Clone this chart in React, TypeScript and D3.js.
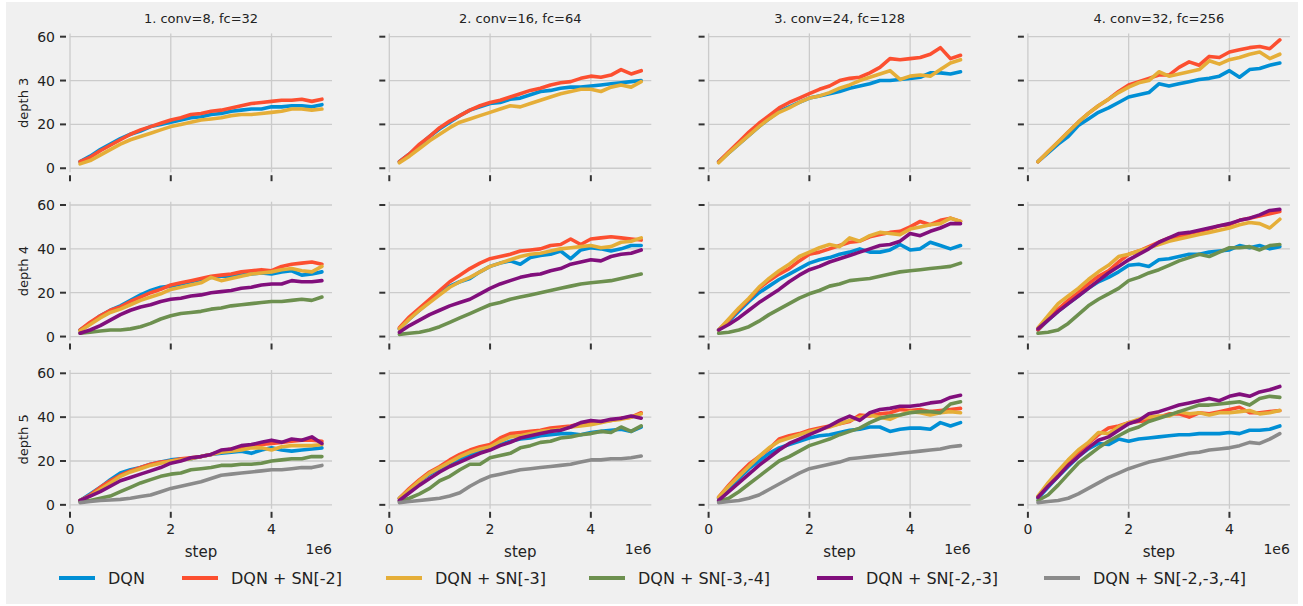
import * as d3 from 'd3';

const steps = [0.2, 0.4, 0.6, 0.8, 1.0, 1.2, 1.4, 1.6, 1.8, 2.0, 2.2, 2.4, 2.6, 2.8, 3.0, 3.2, 3.4, 3.6, 3.8, 4.0, 4.2, 4.4, 4.6, 4.8, 5.0];
const methods = ['DQN', 'DQN + SN[-2]', 'DQN + SN[-3]', 'DQN + SN[-3,-4]', 'DQN + SN[-2,-3]', 'DQN + SN[-2,-3,-4]'];
const colors = ['#008fd5', '#fc4f30', '#e5ae38', '#6d904f', '#810f7c', '#8b8b8b'];
const titles = ['1. conv=8, fc=32', '2. conv=16, fc=64', '3. conv=24, fc=128', '4. conv=32, fc=256'];
const depths = ['depth 3', 'depth 4', 'depth 5'];
const xTicks = [0, 2, 4];
const yTicks = [0, 20, 40, 60];

// depth 3: DQN, SN[-2], SN[-3]
const dep3_c1 = [
  [3, 5.5, 8.5, 11, 13.5, 15.5, 17, 19, 20, 21, 22, 23, 23.5, 24.5, 25, 26, 26.5, 27, 27, 28, 28, 28.5, 28.5, 28, 29],
  [3, 5, 8, 10.5, 13, 15.5, 17.5, 19, 20.5, 22, 23, 24.5, 25, 26, 26.5, 27.5, 28.5, 29.5, 30, 30.5, 31, 31, 31.5, 30.5, 31.5],
  [2, 3.5, 6, 8.5, 11, 13, 14.5, 16, 17.5, 19, 20, 21, 22, 22.5, 23, 24, 24.5, 24.5, 25, 25.5, 26, 27, 27, 26.5, 27],
];
const dep3_c2 = [
  [3, 6.5, 10.5, 14.5, 18, 21, 24, 26.5, 28, 29.5, 30, 31.5, 32, 33.5, 35, 35.5, 36.5, 37, 37, 37.5, 38, 38.5, 39, 39.5, 40],
  [3, 6.5, 11, 14.5, 18.5, 21.5, 24, 26.5, 28.5, 30, 31, 32.5, 34, 35.5, 36.5, 38, 39, 39.5, 41, 42, 41.5, 42.5, 45, 43, 44.5],
  [2.5, 5.5, 9, 12.5, 15.5, 18.5, 21, 22.5, 24, 25.5, 27, 28.5, 28, 29.5, 31, 32.5, 34, 35, 36, 36, 35, 37, 38, 37, 39.5],
];
const dep3_c3 = [
  [3, 7, 11, 15, 19, 22.5, 26, 28, 30, 32, 33, 34, 35, 36.5, 37.5, 38.5, 40, 40, 40.5, 41, 41.5, 43.5, 43.5, 43, 44],
  [3, 7.5, 12, 16.5, 20.5, 24, 27.5, 30, 32, 34, 36, 37.5, 40, 41, 41.5, 43.5, 46, 50, 49.5, 50, 50.5, 52, 55, 50, 51.5],
  [2.5, 7, 11, 15, 19, 22.5, 25.5, 27.5, 30, 32, 33, 34.5, 36.5, 38, 40, 41.5, 43, 44.5, 40.5, 42, 42.5, 42, 45, 48, 49.5],
];
const dep3_c4 = [
  [3, 7, 11, 14.5, 19.5, 22.5, 25.5, 27.5, 30, 32.5, 33.5, 34.5, 38.5, 37.5, 38.5, 39.5, 40.5, 41, 42, 44.5, 41.5, 45, 45.5, 47, 48],
  [3, 7.5, 12, 16.5, 21, 25, 28.5, 31.5, 35, 38, 39.5, 41, 42.5, 42.5, 46, 48.5, 47, 51, 50.5, 53, 54, 55, 55.5, 54.5, 58.5],
  [3, 7.5, 12, 16.5, 21, 25, 28.5, 31.5, 34.5, 37, 39, 40, 44, 42, 43, 44, 45, 49, 47.5, 49.5, 50.5, 52, 53, 50, 52],
];

// depth 4: DQN, SN[-2], SN[-3], SN[-3,-4], SN[-2,-3]
const dep4_c1 = [
  [3, 6, 9.5, 12, 14, 16.5, 19, 21, 22.5, 23, 24, 25, 26, 27, 27.5, 27.5, 28, 28.5, 29, 28.5, 29.5, 30, 28, 28.5, 29.5],
  [3, 6.5, 9.5, 12, 13.5, 16, 18, 20, 21.5, 23.5, 24.5, 25.5, 26.5, 27.5, 28, 28.5, 29.5, 30, 30.5, 30, 32, 33, 33.5, 34, 33],
  [2.5, 5.5, 8.5, 11, 12.5, 14.5, 16.5, 18, 19.5, 21.5, 22.5, 23.5, 24.5, 27, 25.5, 26.5, 27.5, 28.5, 29, 29.5, 30.5, 31, 30, 29.5, 32],
  [1.5, 2, 2.5, 3, 3, 3.5, 4.5, 6, 8, 9.5, 10.5, 11, 11.5, 12.5, 13, 14, 14.5, 15, 15.5, 16, 16, 16.5, 17, 16.5, 18],
  [1.5, 3, 5, 7.5, 10, 12, 13.5, 14.5, 16, 17, 17.5, 18.5, 19, 20, 20.5, 21, 22, 22.5, 23.5, 24, 24, 25.5, 25, 25, 25.5],
];
const dep4_c2 = [
  [3.5, 8, 12, 16, 20, 23, 25, 26.5, 29.5, 32, 33.5, 34.5, 33, 36, 37, 37.5, 39, 35.5, 39.5, 40.5, 40, 39, 40, 41.5, 41.5],
  [4, 9, 13, 17, 21, 25, 28, 31, 33.5, 35.5, 36.5, 37.5, 39, 39.5, 40, 41.5, 42, 44.5, 42, 44.5, 45, 45.5, 45, 44.5, 44],
  [3.5, 8, 12, 15.5, 19, 22.5, 25, 27, 29.5, 32, 33.5, 35, 36.5, 37.5, 38, 39, 40, 40.5, 41, 41.5, 40.5, 41, 43, 43.5, 45],
  [1, 1.5, 2, 3, 4.5, 6.5, 8.5, 10.5, 12.5, 14.5, 15.5, 17, 18, 19, 20, 21, 22, 23, 24, 24.5, 25, 25.5, 26.5, 27.5, 28.5],
  [2, 5, 7.5, 10, 12, 14, 15.5, 17, 19.5, 22, 24, 25.5, 27, 28, 28.5, 30, 31, 33, 34, 35, 34.5, 36.5, 37.5, 38, 39.5],
];
const dep4_c3 = [
  [3, 7, 11.5, 16, 20, 23, 26, 28.5, 31, 33.5, 35, 36, 37.5, 38.5, 40, 38.5, 38.5, 39.5, 42, 39.5, 40, 43, 41.5, 40, 41.5],
  [3, 7.5, 12.5, 17, 22, 25.5, 28.5, 31, 34.5, 37.5, 38.5, 40, 41.5, 43, 43.5, 45.5, 46.5, 47.5, 48, 50, 52.5, 51, 53, 54, 52.5],
  [3, 8, 13, 17.5, 22.5, 26.5, 30, 33, 36.5, 38.5, 40.5, 42, 41, 45, 43.5, 46, 47.5, 47, 46.5, 49, 50, 51, 51.5, 54, 52.5],
  [1.5, 2, 3, 4.5, 7, 10, 12.5, 15, 17.5, 19.5, 21, 23, 24, 25.5, 26, 26.5, 27.5, 28.5, 29.5, 30, 30.5, 31, 31.5, 32, 33.5],
  [3, 5.5, 8.5, 12, 15.5, 18.5, 21.5, 25, 28, 30.5, 32, 34, 35.5, 37, 38.5, 40, 41.5, 42, 43.5, 47, 46, 48, 49.5, 51.5, 51.5],
];
const dep4_c4 = [
  [3, 7.5, 11.5, 15, 18.5, 22, 25, 27, 29.5, 32.5, 33, 32, 35, 35.5, 36.5, 37.5, 37.5, 38.5, 39, 39.5, 41.5, 40.5, 41.5, 40, 41],
  [3, 8, 12.5, 16.5, 20, 24, 27.5, 30, 34, 37.5, 39, 41, 43, 45, 45.5, 47, 48, 49, 50.5, 51, 53, 54, 55, 56, 57],
  [4, 9.5, 15, 18.5, 22, 26, 29.5, 32.5, 36.5, 37.5, 39, 40.5, 42, 43.5, 44.5, 45.5, 46.5, 47.5, 48.5, 49.5, 51, 52, 51.5, 49.5, 53.5],
  [1.5, 2, 3, 6, 10, 14, 17, 19.5, 22, 25.5, 27, 29, 30.5, 32.5, 34.5, 36, 37.5, 36.5, 38.5, 40.5, 40.5, 41, 39.5, 41.5, 42],
  [3.5, 7.5, 11.5, 15, 18.5, 22, 25.5, 29, 32, 35, 37.5, 40, 43, 45, 47, 47.5, 48.5, 49.5, 50.5, 51.5, 53, 54, 55.5, 57.5, 58],
];

// depth 5: all six methods
const dep5_c1 = [
  [2, 5, 8, 11.5, 14.5, 16, 17, 18.5, 19.5, 20.5, 21, 21, 22, 23, 23.5, 24, 24.5, 23.5, 25, 26, 25, 24.5, 25, 25.5, 26],
  [2, 4.5, 8, 11, 13.5, 15.5, 17, 18.5, 19.5, 20, 21, 21.5, 22, 23, 24.5, 25.5, 26, 26.5, 27.5, 28, 28.5, 29, 29.5, 29.5, 29],
  [2, 4, 7, 10, 13, 15, 16.5, 18, 19, 20, 20.5, 21, 22, 23, 24, 24.5, 25, 26, 26, 25, 26.5, 27, 27, 27, 27.5],
  [1.5, 2, 3, 4, 6, 8, 10, 11.5, 13, 14, 14.5, 16, 16.5, 17, 18, 18, 18.5, 18.5, 19, 20, 20.5, 21, 21, 22, 22],
  [2, 4, 6, 8.5, 11, 12.5, 14, 15.5, 17, 19, 20, 21.5, 22, 23, 25, 25.5, 27, 27.5, 28.5, 29.5, 28.5, 30, 29.5, 31, 28],
  [1, 1.5, 2, 2.2, 2.5, 3, 3.8, 4.5, 6, 7.5, 8.5, 9.5, 10.5, 12, 13.5, 14, 14.5, 15, 15.5, 16, 16, 16.5, 17, 17, 18],
];
const dep5_c2 = [
  [3, 7, 11, 14, 16.5, 19, 21, 22.5, 24.5, 26.5, 27.5, 29, 30, 30.5, 31.5, 32, 32.5, 32.5, 32, 33, 33.5, 34, 34.5, 33.5, 35.5],
  [3, 7.5, 11.5, 15, 17.5, 20.5, 23, 25, 26.5, 27.5, 30.5, 32.5, 33, 33.5, 34, 35, 35.5, 36, 37, 37.5, 38, 38.5, 39.5, 40, 42],
  [3, 7, 11, 14.5, 17, 19.5, 22, 24, 25.5, 26.5, 29, 31, 31.5, 32.5, 33.5, 34, 34.5, 35.5, 36, 36.5, 37.5, 38.5, 39, 40, 41.5],
  [1.5, 3, 5, 7.5, 11, 13, 16, 18.5, 18.5, 21.5, 22.5, 23.5, 26, 27, 28.5, 29, 30.5, 31, 32, 32.5, 33.5, 33, 35.5, 33.5, 36],
  [2, 5.5, 9, 12, 15, 17.5, 19.5, 21.5, 23.5, 25, 27, 28.5, 30.5, 31.5, 32.5, 33.5, 34, 35.5, 37.5, 38.5, 38, 39, 39.5, 40.5, 39.5],
  [1, 1.5, 2, 2.5, 3, 4, 5.5, 8.5, 11, 13, 14, 15, 16, 16.5, 17, 17.5, 18, 18.5, 19.5, 20.5, 20.5, 21, 21, 21.5, 22.3],
];
const dep5_c3 = [
  [3, 7.5, 12, 16.5, 20, 23.5, 26, 27.5, 29, 30.5, 31.5, 32, 33, 34, 34.5, 35.5, 35.5, 33.5, 34.5, 35, 35, 34.5, 37.5, 36, 37.5],
  [3.5, 9, 14, 18.5, 22, 25.5, 30, 31.5, 32.5, 34, 35, 36, 37, 38, 41, 40.5, 41.5, 42, 43.5, 43, 43.5, 42.5, 43, 43.5, 44],
  [3.5, 8.5, 13, 17.5, 22, 26, 29, 30.5, 32, 33.5, 34.5, 35.5, 37, 38.5, 40, 41, 40, 39, 41, 42.5, 42, 41, 42, 42.5, 42],
  [1.5, 3, 6, 9.5, 13, 16.5, 20, 22, 24.5, 27, 28.5, 30, 32, 33.5, 35, 37.5, 39.5, 40.5, 41, 42, 42.5, 42.5, 42, 46, 47],
  [2, 6, 10, 14, 18, 21.5, 25, 28, 30, 32, 34, 36, 38.5, 40.5, 38.5, 42, 43.5, 44, 45, 45, 45.5, 46.5, 47, 49, 50],
  [1, 1.5, 2, 3, 4.5, 7, 9.5, 12, 14.5, 16.5, 17.5, 18.5, 19.5, 21, 21.5, 22, 22.5, 23, 23.5, 24, 24.5, 25, 25.5, 26.5, 27],
];
const dep5_c4 = [
  [3, 8, 13, 17.5, 22, 25.5, 28, 27.5, 30, 29, 30, 30.5, 31, 31.5, 32, 32, 32.5, 32.5, 32.5, 33, 32.5, 34, 34, 34.5, 36],
  [3.5, 9.5, 15, 20, 24, 28, 32, 35, 36, 37.5, 38, 38.5, 40, 41.5, 41.5, 40, 42, 41.5, 42.5, 43.5, 44.5, 42, 42, 42.5, 43],
  [4, 10, 15.5, 20.5, 25, 28.5, 33, 32.5, 35.5, 37.5, 39, 40, 40.5, 40.5, 42.5, 41.5, 42, 41, 42, 42, 42.5, 43, 41.5, 42, 43],
  [2, 4.5, 9, 14, 19, 22.5, 26, 29, 31.5, 34, 35.5, 38, 39.5, 41, 42.5, 44, 45.5, 45.5, 46, 46.5, 47, 45.5, 48.5, 49.5, 49],
  [3.5, 8.5, 13, 18, 22, 26, 29.5, 31, 34, 37, 38.5, 41.5, 42.5, 44, 45.5, 46.5, 47.5, 48.5, 47.5, 49.5, 50.5, 49.5, 51.5, 52.5, 54],
  [1, 1.5, 2, 3, 5, 7.5, 10, 12.5, 14.5, 16.5, 18, 19.5, 20.5, 21.5, 22.5, 23.5, 24, 25, 25.5, 26, 27, 28.5, 28, 30, 32.5],
];

const panels = [
  [dep3_c1, dep3_c2, dep3_c3, dep3_c4],
  [dep4_c1, dep4_c2, dep4_c3, dep4_c4],
  [dep5_c1, dep5_c2, dep5_c3, dep5_c4],
];

const W = 1303;
const H = 606;
const font = "'DejaVu Sans', sans-serif";
const left0 = 70;
const colStep = 319.3;
const top0 = 33.4;
const rowStep = 168.3;
const axW = 262;
const axH = 138.8;
const legendX = [59, 182, 386, 589, 817, 1044];

export default function App() {
  const x = d3.scaleLinear().domain([0, 5.2]).range([0, axW]);
  const y = d3.scaleLinear().domain([-1.8, 61.5]).range([axH, 0]);
  const line = d3
    .line<number>()
    .x((_, i) => x(steps[i]))
    .y((d) => y(d));

  return (
    <svg width={W} height={H} style={{ position: 'absolute', left: 0, top: 0 }} fontFamily={font}>
      <rect x={0} y={0} width={W} height={H} fill="#ffffff" />
      <rect x={6} y={2} width={W - 11} height={H - 4} fill="#f0f0f0" />
      {panels.map((row, r) =>
        row.map((series, c) => {
          const tx = left0 + c * colStep;
          const ty = top0 + r * rowStep;
          return (
            <g key={`${r}-${c}`} transform={`translate(${tx},${ty})`}>
              {yTicks.map((t) => (
                <line key={'gy' + t} x1={0} x2={axW} y1={y(t)} y2={y(t)} stroke="#cbcbcb" strokeWidth={1.3} />
              ))}
              {xTicks.map((t) => (
                <line key={'gx' + t} x1={x(t)} x2={x(t)} y1={0} y2={axH} stroke="#cbcbcb" strokeWidth={1.3} />
              ))}
              {yTicks.map((t) => (
                <line key={'ty' + t} x1={-10} x2={-4} y1={y(t)} y2={y(t)} stroke="#333" strokeWidth={2} />
              ))}
              {xTicks.map((t) => (
                <line key={'tx' + t} x1={x(t)} x2={x(t)} y1={axH + 3} y2={axH + 9} stroke="#333" strokeWidth={2} />
              ))}
              {series.map((vals, k) => (
                <path
                  key={'s' + k}
                  d={line(vals) || ''}
                  fill="none"
                  stroke={colors[k]}
                  strokeWidth={3.6}
                  strokeLinejoin="round"
                  strokeLinecap="round"
                />
              ))}
              {r === 0 && (
                <text x={axW / 2} y={-10} textAnchor="middle" fontSize={13} fill="#222">
                  {titles[c]}
                </text>
              )}
              {c === 0 &&
                yTicks.map((t) => (
                  <text key={'ly' + t} x={-15} y={y(t)} dy="0.36em" textAnchor="end" fontSize={14} fill="#222">
                    {t}
                  </text>
                ))}
              {c === 0 && (
                <text
                  transform={`translate(${-42},${axH / 2}) rotate(-90)`}
                  textAnchor="middle"
                  fontSize={13}
                  fill="#222"
                >
                  {depths[r]}
                </text>
              )}
              {r === 2 && (
                <g>
                  {xTicks.map((t) => (
                    <text key={'lx' + t} x={x(t)} y={axH + 25} textAnchor="middle" fontSize={14} fill="#222">
                      {t}
                    </text>
                  ))}
                  <text x={axW / 2} y={axH + 48} textAnchor="middle" fontSize={15} fill="#222">
                    step
                  </text>
                  <text x={axW} y={axH + 45} textAnchor="end" fontSize={14} fill="#222">
                    1e6
                  </text>
                </g>
              )}
            </g>
          );
        })
      )}
      <g>
        {methods.map((m, k) => (
          <g key={m}>
            <line x1={legendX[k]} x2={legendX[k] + 36} y1={578} y2={578} stroke={colors[k]} strokeWidth={3.8} />
            <text x={legendX[k] + 49} y={583.5} fontSize={16} fill="#222">
              {m}
            </text>
          </g>
        ))}
      </g>
    </svg>
  );
}
